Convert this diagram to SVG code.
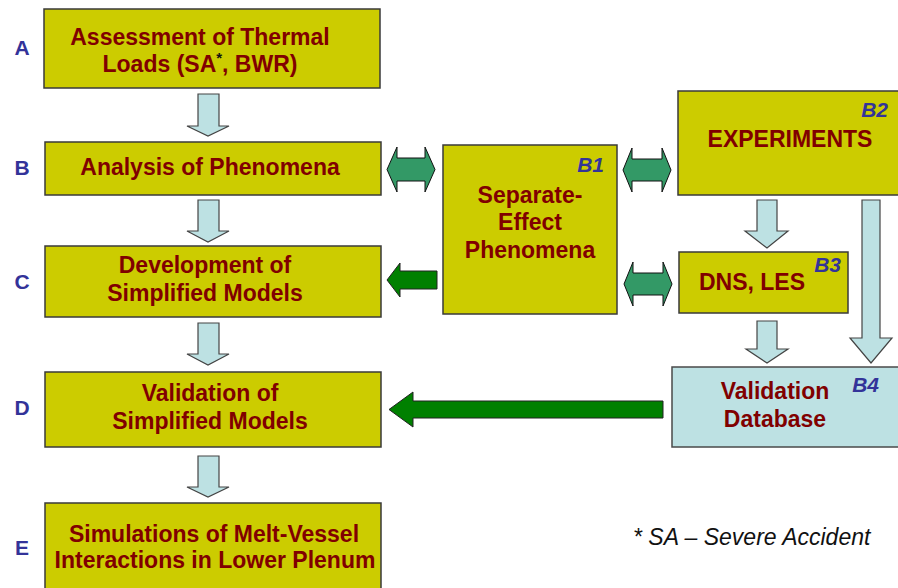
<svg xmlns="http://www.w3.org/2000/svg" width="898" height="588" viewBox="0 0 898 588">
<style>
.box{fill:#cccc00;stroke:#3a3a3a;stroke-width:1.5}
.dbox{fill:#bde1e3;stroke:#4a4a4a;stroke-width:1.5}
.t{font-family:"Liberation Sans",Arial,sans-serif;font-weight:bold;font-size:23px;fill:#800000;text-anchor:middle}
.lab{font-family:"Liberation Sans",Arial,sans-serif;font-weight:bold;font-size:21px;fill:#333399;text-anchor:middle}
.tag{font-family:"Liberation Sans",Arial,sans-serif;font-weight:bold;font-style:italic;font-size:21px;fill:#333399;text-anchor:end}
.la{fill:#bde1e3;stroke:#444;stroke-width:1.2}
.ga{fill:#339966;stroke:#111;stroke-width:1}
.gs{fill:#008000;stroke:#222;stroke-width:1}
.note{font-family:"Liberation Sans",Arial,sans-serif;font-style:italic;font-size:23px;fill:#111}
</style>
<rect width="898" height="588" fill="#fff"/>
<g id="letters">
<text class="lab" x="22" y="55">A</text>
<text class="lab" x="22" y="175">B</text>
<text class="lab" x="22" y="289">C</text>
<text class="lab" x="22" y="415">D</text>
<text class="lab" x="22" y="555">E</text>
</g>
<g id="nodeA">
<rect class="box" x="44" y="9" width="336" height="79"/>
<text class="t" x="200" y="45">Assessment of Thermal</text>
<text class="t" x="200" y="72">Loads (SA<tspan font-size="15" fill="#111" dy="-9">*</tspan><tspan dy="9">, BWR)</tspan></text>
</g>
<g id="nodeB">
<rect class="box" x="45" y="142" width="336" height="53"/>
<text class="t" x="210" y="175">Analysis of Phenomena</text>
</g>
<g id="nodeC">
<rect class="box" x="45" y="246" width="336" height="71"/>
<text class="t" x="205" y="273">Development of</text>
<text class="t" x="205" y="301">Simplified Models</text>
</g>
<g id="nodeD">
<rect class="box" x="45" y="372" width="336" height="75"/>
<text class="t" x="210" y="401">Validation of</text>
<text class="t" x="210" y="429">Simplified Models</text>
</g>
<g id="nodeE">
<rect class="box" x="45" y="503" width="336" height="95"/>
<text class="t" x="214" y="542">Simulations of Melt-Vessel</text>
<text class="t" x="215" y="568">Interactions in Lower Plenum</text>
</g>
<g id="nodeB1">
<rect class="box" x="443" y="145" width="174" height="169"/>
<text class="tag" x="604" y="172">B1</text>
<text class="t" x="530" y="203">Separate-</text>
<text class="t" x="530" y="230">Effect</text>
<text class="t" x="530" y="258">Phenomena</text>
</g>
<g id="nodeB2">
<rect class="box" x="678" y="91" width="240" height="104"/>
<text class="tag" x="888" y="117">B2</text>
<text class="t" x="790" y="147">EXPERIMENTS</text>
</g>
<g id="nodeB3">
<rect class="box" x="679" y="252" width="169" height="61"/>
<text class="tag" x="841" y="272">B3</text>
<text class="t" x="752" y="290">DNS, LES</text>
</g>
<g id="nodeB4">
<rect class="dbox" x="672" y="367" width="240" height="80"/>
<text class="tag" x="879" y="392">B4</text>
<text class="t" x="775" y="399">Validation</text>
<text class="t" x="775" y="427">Database</text>
</g>
<g id="connectors">
<path class="la" d="M198,94 H219 V126 H229 L208,136 L187,126 H198 Z"/>
<path class="la" d="M198,200 H219 V231 H229 L208,242 L187,231 H198 Z"/>
<path class="la" d="M198,323 H219 V354 H229 L208,365 L187,354 H198 Z"/>
<path class="la" d="M198,456 H219 V487 H229 L208,497 L187,487 H198 Z"/>
<path class="la" d="M757,200 H777 V231 H788 L767,248 L745,231 H757 Z"/>
<path class="la" d="M757,321 H777 V349 H788 L767,363 L746,349 H757 Z"/>
<path class="la" d="M862,200 H880 V338 H892 L871,363 L850,338 H862 Z"/>
<path class="ga" d="M387,169.5 L397,147 V158 H425 V147 L435,169.5 L425,192 V181 H397 V192 Z"/>
<path class="ga" d="M623,170 L632,148 V159 H662 V148 L671,170 L662,192 V181 H632 V192 Z"/>
<path class="ga" d="M624,284 L633,262 V273 H663 V262 L672,284 L663,306 V295 H633 V306 Z"/>
<path class="gs" d="M387,280 L400,263 V271 H437 V289 H400 V297 Z"/>
<path class="gs" d="M389,409.5 L413,392 V401 H663 V418 H413 V427 Z"/>
</g>
<text class="note" x="633" y="545">* SA – Severe Accident</text>
</svg>
